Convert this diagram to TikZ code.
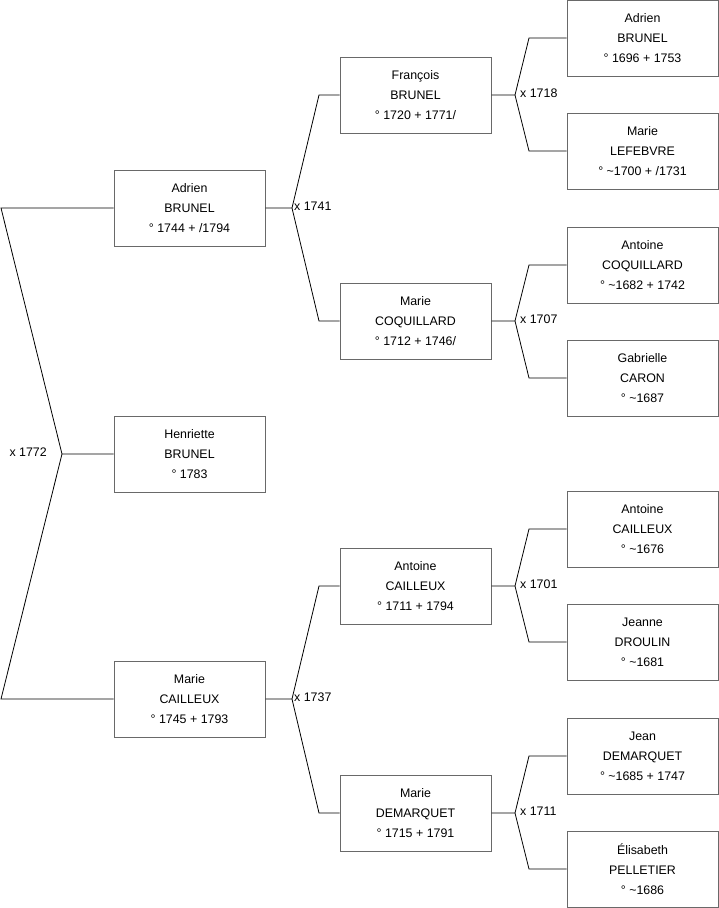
\documentclass[tikz,border=0pt]{standalone}
\usepackage{fontspec}
\setmainfont{Liberation Sans}
\definecolor{boxline}{RGB}{105,105,105}
\begin{document}
\begin{tikzpicture}[x=1pt,y=-1pt,
  person/.style={draw=boxline,line width=1pt,fill=white,minimum width=151pt,minimum height=76pt,inner sep=0pt,align=center,font=\fontsize{12.4}{20}\selectfont},
  link/.style={draw=black,line width=0.8pt},
  marr/.style={font=\fontsize{12.4}{14}\selectfont,inner sep=0pt}]
\useasboundingbox (0,0) rectangle (719,908);
% generation 0
\node[person] (p1) at (189.5,454) {Henriette\\BRUNEL\\° 1783};
% generation 1
\node[person] (p2) at (189.5,208) {Adrien\\BRUNEL\\° 1744 + /1794};
\node[person] (p3) at (189.5,699) {Marie\\CAILLEUX\\° 1745 + 1793};
% generation 2
\node[person] (p4) at (415.5,95) {François\\BRUNEL\\° 1720 + 1771/};
\node[person] (p5) at (415.5,321) {Marie\\COQUILLARD\\° 1712 + 1746/};
\node[person] (p6) at (415.5,586) {Antoine\\CAILLEUX\\° 1711 + 1794};
\node[person] (p7) at (415.5,813) {Marie\\DEMARQUET\\° 1715 + 1791};
% generation 3
\node[person] (p8) at (642.5,38) {Adrien\\BRUNEL\\° 1696 + 1753};
\node[person] (p9) at (642.5,151) {Marie\\LEFEBVRE\\° \textasciitilde1700 + /1731};
\node[person] (p10) at (642.5,265) {Antoine\\COQUILLARD\\° \textasciitilde1682 + 1742};
\node[person] (p11) at (642.5,378) {Gabrielle\\CARON\\° \textasciitilde1687};
\node[person] (p12) at (642.5,529) {Antoine\\CAILLEUX\\° \textasciitilde1676};
\node[person] (p13) at (642.5,642) {Jeanne\\DROULIN\\° \textasciitilde1681};
\node[person] (p14) at (642.5,756) {Jean\\DEMARQUET\\° \textasciitilde1685 + 1747};
\node[person] (p15) at (642.5,869) {Élisabeth\\PELLETIER\\° \textasciitilde1686};
% junctions
\coordinate (j1) at (62,454);
\coordinate (j1a) at (1,208);
\coordinate (j1b) at (1,699);
\coordinate (j2) at (292,208);
\coordinate (j2a) at (319,95);
\coordinate (j2b) at (319,321);
\coordinate (j3) at (292,699);
\coordinate (j3a) at (319,586);
\coordinate (j3b) at (319,813);
\coordinate (j4) at (515,95);
\coordinate (j4a) at (529,38);
\coordinate (j4b) at (529,151);
\coordinate (j5) at (515,321);
\coordinate (j5a) at (529,265);
\coordinate (j5b) at (529,378);
\coordinate (j6) at (515,586);
\coordinate (j6a) at (529,529);
\coordinate (j6b) at (529,642);
\coordinate (j7) at (515,813);
\coordinate (j7a) at (529,756);
\coordinate (j7b) at (529,869);
% links
\draw[link] (p1.west) -- (j1) -- (j1a) -- (p2.west);
\draw[link] (j1) -- (j1b) -- (p3.west);
\draw[link] (p2.east) -- (j2) -- (j2a) -- (p4.west);
\draw[link] (j2) -- (j2b) -- (p5.west);
\draw[link] (p3.east) -- (j3) -- (j3a) -- (p6.west);
\draw[link] (j3) -- (j3b) -- (p7.west);
\draw[link] (p4.east) -- (j4) -- (j4a) -- (p8.west);
\draw[link] (j4) -- (j4b) -- (p9.west);
\draw[link] (p5.east) -- (j5) -- (j5a) -- (p10.west);
\draw[link] (j5) -- (j5b) -- (p11.west);
\draw[link] (p6.east) -- (j6) -- (j6a) -- (p12.west);
\draw[link] (j6) -- (j6b) -- (p13.west);
\draw[link] (p7.east) -- (j7) -- (j7a) -- (p14.west);
\draw[link] (j7) -- (j7b) -- (p15.west);
% marriage labels
\node[marr,anchor=east] (m1) at (47,452) {x 1772};
\node[marr,anchor=west] (m2) at (294,206) {x 1741};
\node[marr,anchor=west] (m3) at (294,697) {x 1737};
\node[marr,anchor=west] (m4) at (520,93) {x 1718};
\node[marr,anchor=west] (m5) at (520,319) {x 1707};
\node[marr,anchor=west] (m6) at (520,584) {x 1701};
\node[marr,anchor=west] (m7) at (520,811) {x 1711};
\end{tikzpicture}
\end{document}
